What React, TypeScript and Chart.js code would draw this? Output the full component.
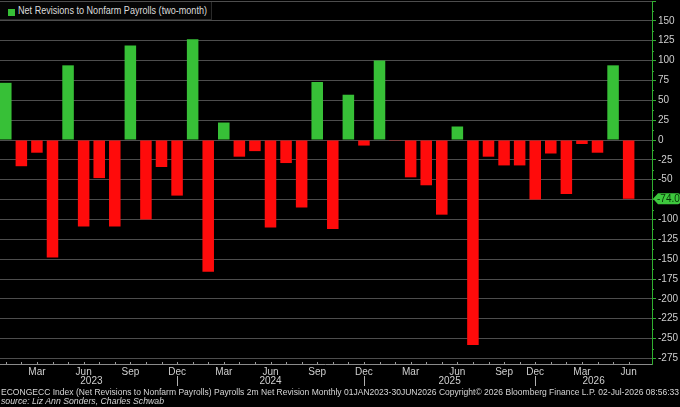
import { useEffect, useRef } from "react"
import { Chart, registerables } from "chart.js"

Chart.register(...registerables)

// Monthly releases, Jan 2023 - Jun 2026 (no Oct 2025 report)
const months = [
  "Jan 2023", "Feb 2023", "Mar 2023", "Apr 2023", "May 2023", "Jun 2023",
  "Jul 2023", "Aug 2023", "Sep 2023", "Oct 2023", "Nov 2023", "Dec 2023",
  "Jan 2024", "Feb 2024", "Mar 2024", "Apr 2024", "May 2024", "Jun 2024",
  "Jul 2024", "Aug 2024", "Sep 2024", "Oct 2024", "Nov 2024", "Dec 2024",
  "Jan 2025", "Feb 2025", "Mar 2025", "Apr 2025", "May 2025", "Jun 2025",
  "Jul 2025", "Aug 2025", "Sep 2025", "Nov 2025", "Dec 2025",
  "Jan 2026", "Feb 2026", "Mar 2026", "Apr 2026", "May 2026", "Jun 2026",
]

// net two-month revision, thousands
const revisions = [
  72, -33, -16, -148, 94, -109, -48, -109, 119, -100, -34, -70,
  127, -166, 22, -21, -14, -110, -29, -85, 73, -112, 57, -7,
  100, -1, -47, -57, -94, 17, -258, -21, -32, -32, -75,
  -17, -68, -5, -16, 94, -74,
]

const quarterMonths = ["Mar", "Jun", "Sep", "Dec"]

const Y_MIN = -282
const Y_MAX = 175
const Y_STEP = 25

const GREEN = "#37c037"
const RED = "#ff0b0b"
const GRID = "#4d4d4d"
const TEXT = "#cfcfcf"
const AXIS_GREEN = "#2fae2f"
const FONT = '"Liberation Sans", Arial, sans-serif'

const decorations = {
  id: "decorations",
  afterDatasetsDraw(chart: any) {
    const { ctx, chartArea, scales } = chart
    const x = scales.x
    const y = scales.y
    ctx.save()

    // small month ticks on the time axis
    ctx.strokeStyle = "#9a9a9a"
    ctx.lineWidth = 1
    months.forEach((_, i) => {
      const px = Math.round(x.getPixelForValue(i)) + 0.5
      ctx.beginPath()
      ctx.moveTo(px, chartArea.bottom)
      ctx.lineTo(px, chartArea.bottom - 2)
      ctx.stroke()
    })

    // minor ticks on the value axis
    ctx.strokeStyle = AXIS_GREEN
    for (let v = -275 + Y_STEP / 2; v < Y_MAX; v += Y_STEP) {
      const py = Math.round(y.getPixelForValue(v)) + 0.5
      ctx.beginPath()
      ctx.moveTo(chartArea.right, py)
      ctx.lineTo(chartArea.right + 2, py)
      ctx.stroke()
    }

    // year labels and year separators
    const years = Array.from(new Set(months.map((m) => m.slice(4))))
    ctx.font = `10px ${FONT}`
    ctx.fillStyle = TEXT
    ctx.textAlign = "center"
    ctx.textBaseline = "middle"
    let start = x.getPixelForValue(0)
    years.forEach((yr) => {
      const decIdx = months.indexOf(`Dec ${yr}`)
      const end = decIdx >= 0 ? x.getPixelForValue(decIdx) : chartArea.right
      ctx.fillText(yr, (start + end) / 2, chartArea.bottom + 17)
      if (decIdx >= 0) {
        const px = Math.round(end) + 0.5
        ctx.strokeStyle = "#b0b0b0"
        ctx.beginPath()
        ctx.moveTo(px, chartArea.bottom + 12)
        ctx.lineTo(px, chartArea.bottom + 22)
        ctx.stroke()
      }
      start = end
    })

    // last value tag
    const last = revisions[revisions.length - 1]
    const py = y.getPixelForValue(last)
    const x0 = chartArea.right + 1
    const x1 = chartArea.right + 28
    const h = 5.5
    ctx.fillStyle = "#3dc73d"
    ctx.beginPath()
    ctx.moveTo(x0, py)
    ctx.lineTo(x0 + 5, py - h)
    ctx.lineTo(x1 - 2, py - h)
    ctx.quadraticCurveTo(x1, py - h, x1, py - h + 2)
    ctx.lineTo(x1, py + h - 2)
    ctx.quadraticCurveTo(x1, py + h, x1 - 2, py + h)
    ctx.lineTo(x0 + 5, py + h)
    ctx.closePath()
    ctx.fill()
    ctx.fillStyle = "#073307"
    ctx.textAlign = "left"
    ctx.font = `10px ${FONT}`
    ctx.fillText(last.toFixed(1), x0 + 4, py + 0.5)

    ctx.restore()
  },
}

function FitText({ text, width, style }: { text: string; width: number; style?: React.CSSProperties }) {
  const ref = useRef<HTMLSpanElement>(null)
  useEffect(() => {
    const el = ref.current
    if (!el) return
    el.style.transform = "none"
    const w = el.getBoundingClientRect().width
    if (w > 0) el.style.transform = `scaleX(${width / w})`
  }, [text, width])
  return (
    <span
      ref={ref}
      style={{ display: "inline-block", whiteSpace: "nowrap", transformOrigin: "0 0", ...style }}
    >
      {text}
    </span>
  )
}

function RevisionsChart() {
  const chartRef = useRef<HTMLCanvasElement>(null)
  const chartInstance = useRef<Chart | null>(null)

  useEffect(() => {
    if (!chartRef.current) return
    const ctx = chartRef.current.getContext("2d")
    if (!ctx) return
    if (chartInstance.current) chartInstance.current.destroy()

    chartInstance.current = new Chart(ctx, {
      type: "bar",
      data: {
        // one empty slot after the last month, as on the terminal chart
        labels: [...months, ""],
        datasets: [
          {
            data: revisions,
            backgroundColor: revisions.map((v) => (v >= 0 ? GREEN : RED)),
            borderWidth: 0,
            categoryPercentage: 1,
            barPercentage: 0.74,
          },
        ],
      },
      options: {
        animation: false,
        responsive: true,
        maintainAspectRatio: false,
        layout: { padding: { top: 1, left: 0, right: 0, bottom: 0 } },
        plugins: { legend: { display: false }, tooltip: { enabled: false } },
        scales: {
          x: {
            offset: true,
            grid: { display: false, drawTicks: false },
            border: { display: true, color: "#8a8a8a", width: 1 },
            ticks: {
              autoSkip: false,
              maxRotation: 0,
              minRotation: 0,
              padding: 2,
              color: TEXT,
              font: { family: FONT, size: 10 },
              callback: (_v: any, i: number) => {
                const m = (months[i] || "").slice(0, 3)
                return quarterMonths.includes(m) ? m : ""
              },
            },
            afterFit: (s: any) => {
              s.height = 26
              s.paddingLeft = 0
              s.paddingRight = 0
            },
          },
          y: {
            position: "right",
            min: Y_MIN,
            max: Y_MAX,
            afterBuildTicks: (axis: any) => {
              axis.ticks = axis.ticks.filter((t: any) => t.value % Y_STEP === 0)
            },
            grid: {
              color: GRID,
              lineWidth: 1,
              drawTicks: true,
              tickLength: 4,
              tickColor: AXIS_GREEN,
            },
            border: { display: true, color: AXIS_GREEN, width: 1 },
            ticks: {
              stepSize: Y_STEP,
              includeBounds: false,
              padding: 2,
              color: TEXT,
              font: { family: FONT, size: 10 },
              callback: (v: any) => (v === Y_MAX ? "" : String(v)),
            },
            afterFit: (s: any) => {
              s.width = 28
              s.paddingTop = 0
              s.paddingBottom = 0
            },
          },
        },
      },
      plugins: [decorations],
    })

    return () => {
      if (chartInstance.current) {
        chartInstance.current.destroy()
        chartInstance.current = null
      }
    }
  }, [])

  return (
    <div style={{ position: "absolute", left: -2, top: 0, width: 682, height: 390 }}>
      <canvas ref={chartRef}></canvas>
    </div>
  )
}

export default function App() {
  return (
    <div
      style={{
        position: "fixed",
        left: 0,
        top: 0,
        width: 680,
        height: 407,
        background: "#000",
        overflow: "hidden",
        fontFamily: FONT,
        color: TEXT,
      }}
    >
      <RevisionsChart />
      <div
        style={{
          position: "absolute",
          left: 0,
          top: 2,
          width: 212,
          height: 18,
          background: "#050505",
          boxSizing: "border-box",
          borderRight: "1px solid #2a2a2a",
          borderBottom: "1px solid #2a2a2a",
        }}
      >
        <div style={{ position: "absolute", left: 8, top: 7, width: 7, height: 7, background: GREEN }} />
        <div style={{ position: "absolute", left: 18, top: 3, lineHeight: "12px", fontSize: 10, color: "#dcdcdc" }}>
          <FitText text="Net Revisions to Nonfarm Payrolls (two-month)" width={189} />
        </div>
      </div>
      <div style={{ position: "absolute", left: 1, top: 387, lineHeight: "11px", fontSize: 9, color: "#d6d6d6" }}>
        <FitText
          text="ECONGECC Index (Net Revisions to Nonfarm Payrolls) Payrolls 2m Net Revision Monthly 01JAN2023-30JUN2026  Copyright© 2026 Bloomberg Finance L.P.  02-Jul-2026 08:56:33"
          width={678}
        />
      </div>
      <div
        style={{
          position: "absolute",
          left: 1,
          top: 396,
          lineHeight: "11px",
          fontSize: 9,
          fontStyle: "italic",
          color: "#d6d6d6",
        }}
      >
        <FitText text="source: Liz Ann Sonders, Charles Schwab" width={163} />
      </div>
    </div>
  )
}
